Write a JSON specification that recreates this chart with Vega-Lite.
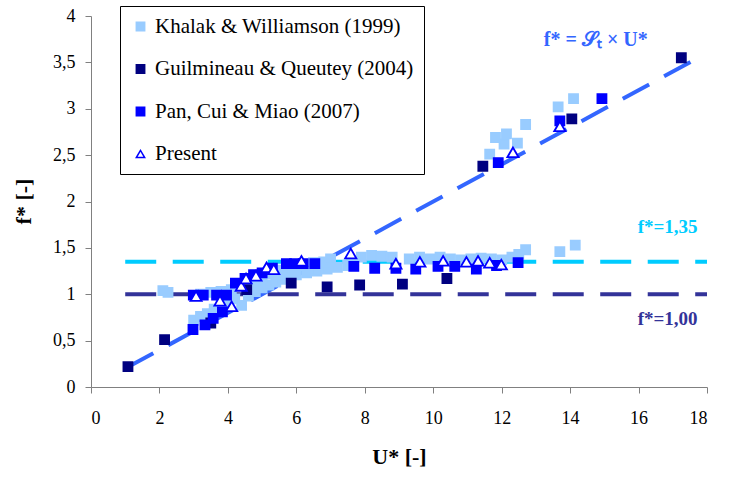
{
  "$schema": "https://vega.github.io/schema/vega-lite/v6.json",
  "autosize": {"type": "none"},
  "width": 616,
  "height": 371,
  "padding": {"left": 91, "top": 16, "right": 37, "bottom": 90},
  "background": "white",
  "config": {
    "view": {"stroke": null},
    "font": "Liberation Serif",
    "axis": {
      "grid": false,
      "domainColor": "#808080",
      "tickColor": "#808080",
      "tickSize": 6,
      "labelFont": "Liberation Serif",
      "labelFontSize": 18,
      "labelColor": "black",
      "titleFont": "Liberation Serif",
      "titleFontSize": 22,
      "titleFontWeight": "bold",
      "titleColor": "black"
    }
  },
  "datasets": {
    "pts": [
      {"series": "Khalak & Williamson (1999)", "u": 2.1, "f": 1.04},
      {"series": "Khalak & Williamson (1999)", "u": 2.25, "f": 1.02},
      {"series": "Khalak & Williamson (1999)", "u": 3.0, "f": 0.72},
      {"series": "Khalak & Williamson (1999)", "u": 3.2, "f": 0.76},
      {"series": "Khalak & Williamson (1999)", "u": 3.4, "f": 0.79},
      {"series": "Khalak & Williamson (1999)", "u": 3.6, "f": 0.84},
      {"series": "Khalak & Williamson (1999)", "u": 3.8, "f": 0.88},
      {"series": "Khalak & Williamson (1999)", "u": 4.0, "f": 0.91},
      {"series": "Khalak & Williamson (1999)", "u": 4.2, "f": 0.95},
      {"series": "Khalak & Williamson (1999)", "u": 4.4, "f": 0.88},
      {"series": "Khalak & Williamson (1999)", "u": 4.6, "f": 0.98},
      {"series": "Khalak & Williamson (1999)", "u": 4.8, "f": 1.03},
      {"series": "Khalak & Williamson (1999)", "u": 5.0, "f": 1.07},
      {"series": "Khalak & Williamson (1999)", "u": 5.2, "f": 1.1},
      {"series": "Khalak & Williamson (1999)", "u": 5.4, "f": 1.13},
      {"series": "Khalak & Williamson (1999)", "u": 5.6, "f": 1.16},
      {"series": "Khalak & Williamson (1999)", "u": 5.8, "f": 1.19},
      {"series": "Khalak & Williamson (1999)", "u": 6.0, "f": 1.21},
      {"series": "Khalak & Williamson (1999)", "u": 6.3, "f": 1.23},
      {"series": "Khalak & Williamson (1999)", "u": 6.6, "f": 1.25},
      {"series": "Khalak & Williamson (1999)", "u": 6.9, "f": 1.27},
      {"series": "Khalak & Williamson (1999)", "u": 7.2, "f": 1.29},
      {"series": "Khalak & Williamson (1999)", "u": 7.5, "f": 1.31},
      {"series": "Khalak & Williamson (1999)", "u": 3.2, "f": 1.0},
      {"series": "Khalak & Williamson (1999)", "u": 3.5, "f": 1.02},
      {"series": "Khalak & Williamson (1999)", "u": 3.8, "f": 1.03},
      {"series": "Khalak & Williamson (1999)", "u": 4.1, "f": 1.05},
      {"series": "Khalak & Williamson (1999)", "u": 4.4, "f": 1.1},
      {"series": "Khalak & Williamson (1999)", "u": 4.7, "f": 1.14},
      {"series": "Khalak & Williamson (1999)", "u": 5.0, "f": 1.18},
      {"series": "Khalak & Williamson (1999)", "u": 5.3, "f": 1.22},
      {"series": "Khalak & Williamson (1999)", "u": 5.6, "f": 1.26},
      {"series": "Khalak & Williamson (1999)", "u": 5.9, "f": 1.29},
      {"series": "Khalak & Williamson (1999)", "u": 6.2, "f": 1.32},
      {"series": "Khalak & Williamson (1999)", "u": 6.5, "f": 1.34},
      {"series": "Khalak & Williamson (1999)", "u": 6.8, "f": 1.35},
      {"series": "Khalak & Williamson (1999)", "u": 7.0, "f": 1.38},
      {"series": "Khalak & Williamson (1999)", "u": 7.6, "f": 1.34},
      {"series": "Khalak & Williamson (1999)", "u": 7.9, "f": 1.4},
      {"series": "Khalak & Williamson (1999)", "u": 8.2, "f": 1.42},
      {"series": "Khalak & Williamson (1999)", "u": 8.5, "f": 1.41},
      {"series": "Khalak & Williamson (1999)", "u": 8.8, "f": 1.4},
      {"series": "Khalak & Williamson (1999)", "u": 9.3, "f": 1.38},
      {"series": "Khalak & Williamson (1999)", "u": 9.6, "f": 1.4},
      {"series": "Khalak & Williamson (1999)", "u": 9.9, "f": 1.38},
      {"series": "Khalak & Williamson (1999)", "u": 10.2, "f": 1.4},
      {"series": "Khalak & Williamson (1999)", "u": 10.5, "f": 1.38},
      {"series": "Khalak & Williamson (1999)", "u": 10.8, "f": 1.37},
      {"series": "Khalak & Williamson (1999)", "u": 11.1, "f": 1.38},
      {"series": "Khalak & Williamson (1999)", "u": 11.4, "f": 1.39},
      {"series": "Khalak & Williamson (1999)", "u": 11.7, "f": 1.38},
      {"series": "Khalak & Williamson (1999)", "u": 12.0, "f": 1.37},
      {"series": "Khalak & Williamson (1999)", "u": 12.3, "f": 1.4},
      {"series": "Khalak & Williamson (1999)", "u": 12.5, "f": 1.43},
      {"series": "Khalak & Williamson (1999)", "u": 12.7, "f": 1.48},
      {"series": "Khalak & Williamson (1999)", "u": 13.7, "f": 1.46},
      {"series": "Khalak & Williamson (1999)", "u": 14.15, "f": 1.53},
      {"series": "Khalak & Williamson (1999)", "u": 11.65, "f": 2.51},
      {"series": "Khalak & Williamson (1999)", "u": 11.82, "f": 2.69},
      {"series": "Khalak & Williamson (1999)", "u": 12.07, "f": 2.62},
      {"series": "Khalak & Williamson (1999)", "u": 12.14, "f": 2.73},
      {"series": "Khalak & Williamson (1999)", "u": 12.46, "f": 2.63},
      {"series": "Khalak & Williamson (1999)", "u": 12.7, "f": 2.83},
      {"series": "Khalak & Williamson (1999)", "u": 13.65, "f": 3.02},
      {"series": "Khalak & Williamson (1999)", "u": 14.1, "f": 3.11},
      {"series": "Guilmineau & Queutey (2004)", "u": 1.08, "f": 0.22},
      {"series": "Guilmineau & Queutey (2004)", "u": 2.15, "f": 0.51},
      {"series": "Guilmineau & Queutey (2004)", "u": 3.5, "f": 0.69},
      {"series": "Guilmineau & Queutey (2004)", "u": 4.55, "f": 1.05},
      {"series": "Guilmineau & Queutey (2004)", "u": 5.85, "f": 1.12},
      {"series": "Guilmineau & Queutey (2004)", "u": 6.9, "f": 1.08},
      {"series": "Guilmineau & Queutey (2004)", "u": 7.85, "f": 1.1},
      {"series": "Guilmineau & Queutey (2004)", "u": 9.1, "f": 1.11},
      {"series": "Guilmineau & Queutey (2004)", "u": 10.4, "f": 1.17},
      {"series": "Guilmineau & Queutey (2004)", "u": 11.45, "f": 2.38},
      {"series": "Guilmineau & Queutey (2004)", "u": 14.05, "f": 2.89},
      {"series": "Guilmineau & Queutey (2004)", "u": 17.25, "f": 3.55},
      {"series": "Pan, Cui & Miao (2007)", "u": 2.98, "f": 0.62},
      {"series": "Pan, Cui & Miao (2007)", "u": 3.33, "f": 0.67},
      {"series": "Pan, Cui & Miao (2007)", "u": 3.57, "f": 0.74},
      {"series": "Pan, Cui & Miao (2007)", "u": 3.84, "f": 0.81},
      {"series": "Pan, Cui & Miao (2007)", "u": 2.99, "f": 0.99},
      {"series": "Pan, Cui & Miao (2007)", "u": 3.28, "f": 0.99},
      {"series": "Pan, Cui & Miao (2007)", "u": 3.67, "f": 0.99},
      {"series": "Pan, Cui & Miao (2007)", "u": 3.96, "f": 0.99},
      {"series": "Pan, Cui & Miao (2007)", "u": 4.22, "f": 1.12},
      {"series": "Pan, Cui & Miao (2007)", "u": 4.5, "f": 1.17},
      {"series": "Pan, Cui & Miao (2007)", "u": 4.75, "f": 1.21},
      {"series": "Pan, Cui & Miao (2007)", "u": 5.0, "f": 1.23},
      {"series": "Pan, Cui & Miao (2007)", "u": 5.3, "f": 1.28},
      {"series": "Pan, Cui & Miao (2007)", "u": 5.71, "f": 1.33},
      {"series": "Pan, Cui & Miao (2007)", "u": 5.95, "f": 1.33},
      {"series": "Pan, Cui & Miao (2007)", "u": 6.2, "f": 1.33},
      {"series": "Pan, Cui & Miao (2007)", "u": 6.54, "f": 1.33},
      {"series": "Pan, Cui & Miao (2007)", "u": 7.68, "f": 1.3},
      {"series": "Pan, Cui & Miao (2007)", "u": 8.29, "f": 1.28},
      {"series": "Pan, Cui & Miao (2007)", "u": 8.91, "f": 1.28},
      {"series": "Pan, Cui & Miao (2007)", "u": 9.49, "f": 1.27},
      {"series": "Pan, Cui & Miao (2007)", "u": 10.14, "f": 1.3},
      {"series": "Pan, Cui & Miao (2007)", "u": 10.63, "f": 1.3},
      {"series": "Pan, Cui & Miao (2007)", "u": 11.26, "f": 1.27},
      {"series": "Pan, Cui & Miao (2007)", "u": 11.85, "f": 1.31},
      {"series": "Pan, Cui & Miao (2007)", "u": 12.48, "f": 1.34},
      {"series": "Pan, Cui & Miao (2007)", "u": 11.9, "f": 2.42},
      {"series": "Pan, Cui & Miao (2007)", "u": 13.7, "f": 2.87},
      {"series": "Pan, Cui & Miao (2007)", "u": 14.93, "f": 3.11},
      {"series": "Present", "u": 3.07, "f": 0.98},
      {"series": "Present", "u": 3.77, "f": 0.93},
      {"series": "Present", "u": 4.11, "f": 0.87},
      {"series": "Present", "u": 4.39, "f": 1.09},
      {"series": "Present", "u": 4.53, "f": 1.17},
      {"series": "Present", "u": 4.82, "f": 1.2},
      {"series": "Present", "u": 5.13, "f": 1.29},
      {"series": "Present", "u": 5.34, "f": 1.27},
      {"series": "Present", "u": 6.15, "f": 1.36},
      {"series": "Present", "u": 7.59, "f": 1.44},
      {"series": "Present", "u": 8.91, "f": 1.33},
      {"series": "Present", "u": 9.61, "f": 1.35},
      {"series": "Present", "u": 10.29, "f": 1.36},
      {"series": "Present", "u": 10.97, "f": 1.35},
      {"series": "Present", "u": 11.31, "f": 1.36},
      {"series": "Present", "u": 11.65, "f": 1.34},
      {"series": "Present", "u": 11.99, "f": 1.32},
      {"series": "Present", "u": 12.33, "f": 2.53},
      {"series": "Present", "u": 13.7, "f": 2.81}
    ]
  },
  "data": {"name": "pts"},
  "layer": [
    {
      "data": {"values": [{}]},
      "mark": {"type": "rule", "color": "#00CCFF", "strokeWidth": 4, "strokeDash": [31, 16.5]},
      "encoding": {
        "x": {"datum": 1.0, "type": "quantitative"},
        "x2": {"datum": 18},
        "y": {"datum": 1.35, "type": "quantitative"}
      }
    },
    {
      "data": {"values": [{}]},
      "mark": {"type": "rule", "color": "#333399", "strokeWidth": 4, "strokeDash": [31, 16.5]},
      "encoding": {
        "x": {"datum": 1.0, "type": "quantitative"},
        "x2": {"datum": 18},
        "y": {"datum": 1.0, "type": "quantitative"}
      }
    },
    {
      "data": {"values": [{}]},
      "mark": {"type": "rule", "color": "#3366FF", "strokeWidth": 4, "strokeDash": [30, 17]},
      "encoding": {
        "x": {"datum": 1.05, "type": "quantitative"},
        "x2": {"datum": 17.65},
        "y": {"datum": 0.21, "type": "quantitative"},
        "y2": {"datum": 3.53}
      }
    },
    {
      "transform": [{"filter": "datum.series !== 'Present'"}],
      "mark": {"type": "point", "opacity": 1, "fillOpacity": 1, "strokeOpacity": 1, "size": 85, "strokeWidth": 1.6},
      "encoding": {
        "x": {
          "field": "u", "type": "quantitative",
          "scale": {"domain": [0, 18], "nice": false},
          "axis": {"values": [0, 2, 4, 6, 8, 10, 12, 14, 16, 18], "title": "U* [-]", "labelPadding": 16, "titleX": 308, "titleY": 76, "titleBaseline": "alphabetic"}
        },
        "y": {
          "field": "f", "type": "quantitative",
          "scale": {"domain": [0, 4], "nice": false},
          "axis": {"values": [0, 0.5, 1, 1.5, 2, 2.5, 3, 3.5, 4], "labelExpr": "replace(toString(datum.value), '.', ',')", "title": "f* [-]", "labelPadding": 10, "titleX": -68, "titleY": 185, "titleAngle": -90, "titleBaseline": "middle", "titleAlign": "center"}
        },
        "fill": {
          "field": "series", "type": "nominal",
          "scale": {"domain": ["Khalak & Williamson (1999)", "Guilmineau & Queutey (2004)", "Pan, Cui & Miao (2007)", "Present"], "range": ["#99CCFF", "#000080", "#0000FF", "#FFFFFF"]},
          "legend": {
            "title": null,
            "orient": "none",
            "legendX": 29,
            "legendY": -10,
            "strokeColor": "black",
            "fillColor": "white",
            "padding": 10,
            "labelFont": "Liberation Serif",
            "labelFontSize": 21,
            "labelColor": "black",
            "labelLimit": 400,
            "rowPadding": 20.5,
            "symbolSize": 70,
            "symbolStrokeWidth": 1.5,
            "labelOffset": 4
          }
        },
        "stroke": {
          "field": "series", "type": "nominal",
          "scale": {"domain": ["Khalak & Williamson (1999)", "Guilmineau & Queutey (2004)", "Pan, Cui & Miao (2007)", "Present"], "range": ["#99CCFF", "#000080", "#0000FF", "#0000FF"]},
          "legend": {"title": null}
        },
        "shape": {
          "field": "series", "type": "nominal",
          "scale": {"domain": ["Khalak & Williamson (1999)", "Guilmineau & Queutey (2004)", "Pan, Cui & Miao (2007)", "Present"], "range": ["square", "square", "square", "triangle-up"]},
          "legend": {"title": null}
        }
      }
    },
    {
      "transform": [{"filter": "datum.series === 'Present'"}],
      "mark": {"type": "point", "opacity": 1, "fillOpacity": 1, "strokeOpacity": 1, "size": 125, "strokeWidth": 1.8},
      "encoding": {
        "x": {"field": "u", "type": "quantitative"},
        "y": {"field": "f", "type": "quantitative"},
        "fill": {"field": "series", "type": "nominal", "legend": {"title": null}},
        "stroke": {"field": "series", "type": "nominal", "legend": {"title": null}},
        "shape": {"field": "series", "type": "nominal", "legend": {"title": null}}
      }
    },
    {
      "data": {"values": [{}]},
      "mark": {"type": "text", "text": "f* = 𝒮ₜ × U*", "font": "Liberation Serif", "fontSize": 20, "fontWeight": "bold", "color": "#3366FF", "align": "center", "baseline": "middle"},
      "encoding": {"x": {"datum": 14.75, "type": "quantitative"}, "y": {"datum": 3.74, "type": "quantitative"}}
    },
    {
      "data": {"values": [{}]},
      "mark": {"type": "text", "text": "f*=1,35", "font": "Liberation Serif", "fontSize": 19, "fontWeight": "bold", "color": "#00CCFF", "align": "center", "baseline": "middle"},
      "encoding": {"x": {"datum": 16.85, "type": "quantitative"}, "y": {"datum": 1.73, "type": "quantitative"}}
    },
    {
      "data": {"values": [{}]},
      "mark": {"type": "text", "text": "f*=1,00", "font": "Liberation Serif", "fontSize": 19, "fontWeight": "bold", "color": "#333399", "align": "center", "baseline": "middle"},
      "encoding": {"x": {"datum": 16.85, "type": "quantitative"}, "y": {"datum": 0.73, "type": "quantitative"}}
    }
  ]
}
